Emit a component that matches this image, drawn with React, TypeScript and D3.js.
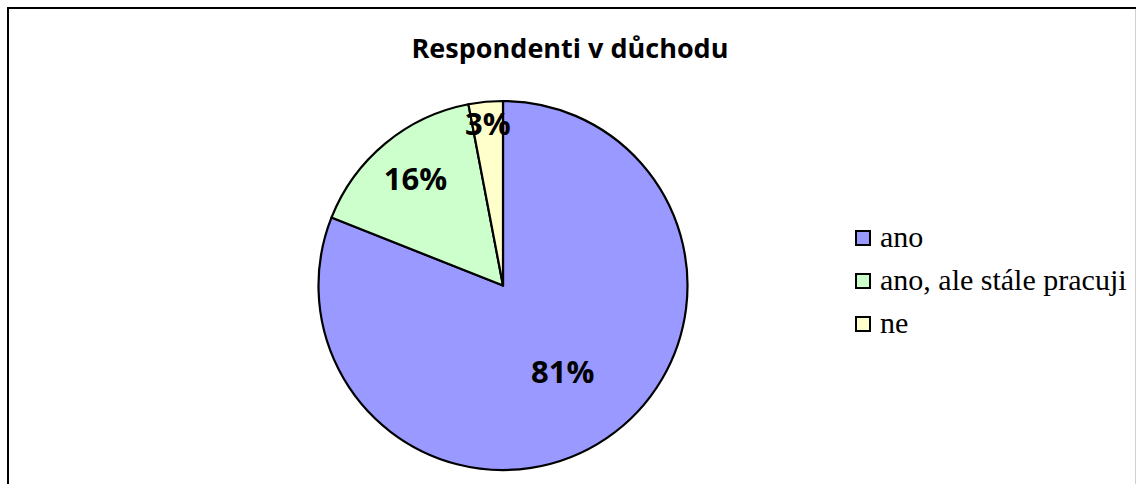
import React from "react";
import * as d3 from "d3";

const categories = ["ano", "ano, ale stále pracuji", "ne"];
const values = [81, 16, 3];
const colors = ["#9999FF", "#CCFFCC", "#FFFFCC"];
const title = "Respondenti v důchodu";

const W = 1136;
const H = 484;
const cx = 503;
const cy = 285.5;
const R = 184.5;
const labelFrac = [0.575, 0.745, 0.875];

export default function App() {
  const pie = d3.pie<number>().sort(null).value((d) => d);
  const arcs = pie(values);
  const arc = d3.arc<d3.PieArcDatum<number>>().innerRadius(0).outerRadius(R);
  const total = d3.sum(values);

  return (
    <svg
      width={W}
      height={H}
      style={{ position: "absolute", left: 0, top: 0, background: "#fff" }}
    >
      <rect x={0} y={0} width={W} height={H} fill="#fff" />
      <rect x={8} y={8} width={1140} height={520} fill="none" stroke="#000" strokeWidth={2} />
      <line x1={1135.5} x2={1135.5} y1={9} y2={H} stroke="#d0d0d0" strokeWidth={1} />
      <text
        x={570}
        y={58}
        textAnchor="middle"
        fontFamily="'Open Sans', sans-serif"
        fontWeight="bold"
        fontSize={27}
      >
        {title}
      </text>
      <g transform={`translate(${cx},${cy})`}>
        {arcs.map((a, i) => (
          <path key={i} d={arc(a) || ""} fill={colors[i]} stroke="#000" strokeWidth={2.2} strokeLinejoin="round" />
        ))}
        {arcs.map((a, i) => {
          const r = R * labelFrac[i];
          const la = d3.arc<d3.PieArcDatum<number>>().innerRadius(r).outerRadius(r);
          const [x, y] = la.centroid(a);
          return (
            <text
              key={i}
              x={x}
              y={y + 10}
              textAnchor="middle"
              fontFamily="'Open Sans', sans-serif"
              fontWeight="bold"
              fontSize={31}
            >
              {Math.round((values[i] / total) * 100)}%
            </text>
          );
        })}
      </g>
      <g>
        {categories.map((c, i) => (
          <g key={c} transform={`translate(855,${231 + i * 43})`}>
            <rect x={1} y={0} width={14} height={14} fill={colors[i]} stroke="#000" strokeWidth={2} />
            <text
              x={25}
              y={16}
              style={{ fontFamily: "Liberation Serif, DejaVu Serif, serif", fontSize: "30px" }}
            >
              {c}
            </text>
          </g>
        ))}
      </g>
    </svg>
  );
}
